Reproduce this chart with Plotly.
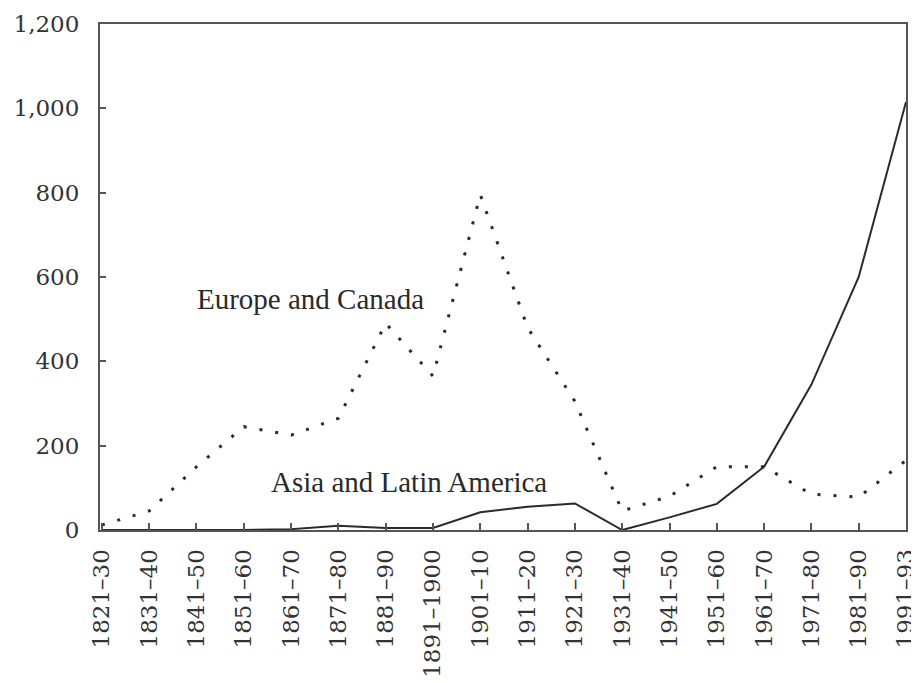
import plotly.graph_objects as go

periods = ["1821–30", "1831–40", "1841–50", "1851–60", "1861–70", "1871–80",
           "1881–90", "1891–1900", "1901–10", "1911–20", "1921–30", "1931–40",
           "1941–50", "1951–60", "1961–70", "1971–80", "1981–90", "1991–93"]

# thousands of immigrants per year
europe_canada = [12, 45, 150, 245, 225, 265, 490, 365, 795, 480, 305, 45,
                 80, 150, 150, 85, 78, 165]
asia_latam = [0, 0, 0, 0, 2, 10, 5, 5, 42, 55, 63, 0,
              30, 62, 150, 345, 600, 1015]

ink = "#2a2a2a"
tick_font = dict(family="DejaVu Serif, serif", size=23, color="#333")
label_font = dict(family="Liberation Serif, Times New Roman, serif", size=29,
                  color=ink)

fig = go.Figure()
fig.add_trace(go.Scatter(x=periods, y=europe_canada, mode="lines",
                         line=dict(color=ink, width=3, dash="3px,13px"),
                         name="Europe and Canada"))
fig.add_trace(go.Scatter(x=periods, y=asia_latam, mode="lines",
                         line=dict(color=ink, width=2),
                         name="Asia and Latin America"))

fig.add_annotation(x=4.4, y=547, text="Europe and Canada", showarrow=False,
                   font=label_font)
fig.add_annotation(x=6.5, y=114, text="Asia and Latin America", showarrow=False,
                   font=label_font)

# page body has an 8px margin, so the figure is sized and offset for it
fig.update_layout(
    width=911, height=675,
    margin=dict(l=92, r=13, t=16, b=153),
    paper_bgcolor="white", plot_bgcolor="white",
    showlegend=False,
    font=tick_font,
    xaxis=dict(range=[-0.04, 17], showgrid=False, zeroline=False,
               automargin=False,
               showline=True, linecolor="#555", linewidth=2, mirror=True,
               ticks="inside", ticklen=7, tickcolor="#555", tickwidth=1.5,
               tickangle=-90, ticklabelstandoff=8, tickfont=tick_font),
    yaxis=dict(range=[0, 1200], dtick=200, tickformat=",d", showgrid=False,
               automargin=False,
               zeroline=False, showline=True, linecolor="#555", linewidth=2,
               mirror=True, ticks="inside", ticklen=6, tickcolor="#555",
               tickwidth=1.5, ticklabelstandoff=14, tickfont=tick_font),
)

fig.write_html("out.html")
